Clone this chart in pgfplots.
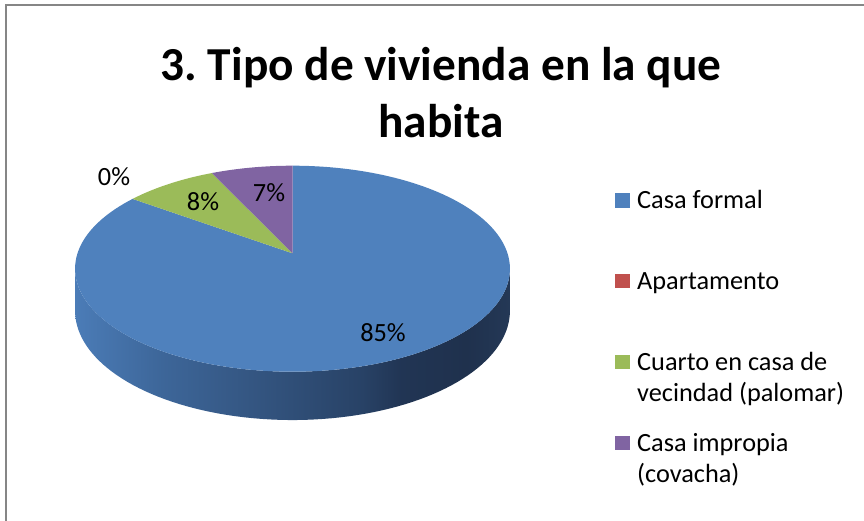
\documentclass[border=0pt]{standalone}
\usepackage{fontspec}
\setmainfont{Carlito}
\usepackage{pgfplots}
\pgfplotsset{compat=1.18}
\frenchspacing
\definecolor{cBlue}{RGB}{79,129,189}
\definecolor{cRed}{RGB}{192,80,77}
\definecolor{cGreen}{RGB}{155,187,89}
\definecolor{cPurple}{RGB}{128,100,162}
\definecolor{frameGray}{RGB}{134,134,134}
\definecolor{s0}{RGB}{75,124,183}
\definecolor{s1}{RGB}{61,102,153}
\definecolor{s2}{RGB}{51,84,127}
\definecolor{s3}{RGB}{40,66,102}
\definecolor{s4}{RGB}{33,53,84}
\definecolor{s5}{RGB}{31,49,77}
\definecolor{s6}{RGB}{36,56,86}
\pgfdeclarehorizontalshading{sideshade}{100bp}{color(0bp)=(s0); color(25bp)=(s0); color(35bp)=(s1); color(46.5bp)=(s2); color(58bp)=(s3); color(62.5bp)=(s4); color(70bp)=(s5); color(75bp)=(s6); color(100bp)=(s6)}
\newcommand\lab{\fontsize{26.4}{31.7}\selectfont}
\newcommand\ttl{\fontsize{47.5}{57}\selectfont\bfseries}
% data (percent)
\def\vA{85}% Casa formal
\def\vB{0}% Apartamento
\def\vC{8}% Cuarto en casa de vecindad (palomar)
\def\vD{7}% Casa impropia (covacha)
\begin{document}
\begin{tikzpicture}
\pgfmathsetmacro\aA{3.6*\vA}
\pgfmathsetmacro\aB{\aA+3.6*\vB}
\pgfmathsetmacro\aC{\aB+3.6*\vC}
\pgfmathsetmacro\aD{\aC+3.6*\vD}
\useasboundingbox (0,0) rectangle (864bp,521bp);
\begin{axis}[at={(0,0)}, anchor=south west, scale only axis,
  width=864bp, height=521bp, xmin=0, xmax=864, ymin=0, ymax=521,
  y dir=reverse, hide axis, clip=false,
  declare function={
    px(\a)=292.5+215*sin(\a)/(1+0.1495*cos(\a));
    py(\a)=253.3-100.7*cos(\a)/(1+0.1495*cos(\a));
    thS(\s)=ifthenelse(\s<=162.8, 98.6+\s, 261.4-(\s-162.8));
    off(\s)=ifthenelse(\s<=162.8, 0, 1);
  }]
% side of the pie
\addplot[draw=none, shading=sideshade, variable=\t, domain=0:325.6, samples=163]
  ({px(thS(t))}, {py(thS(t))+off(t)*41.1/(1+0.1495*cos(thS(t)))}) -- cycle;
% top slices
\addplot[fill=cBlue, draw=none, variable=\t, domain=0:\aA, samples=160]
  ({px(t)}, {py(t)}) -- (axis cs:292.5,253.3) -- cycle;
\addplot[fill=cGreen, draw=none, variable=\t, domain=\aB:\aC, samples=30]
  ({px(t)}, {py(t)}) -- (axis cs:292.5,253.3) -- cycle;
\addplot[fill=cPurple, draw=none, variable=\t, domain=\aC:\aD, samples=30]
  ({px(t)}, {py(t)}) -- (axis cs:292.5,253.3) -- cycle;
% frame
\draw[frameGray, line width=1.5bp] (axis cs:6,521) -- (axis cs:6,5) -- (axis cs:864,5);
% title
\node[anchor=base, font=\ttl] at (axis cs:441,81) {3. Tipo de vivienda en la que};
\node[anchor=base, font=\ttl] at (axis cs:441,137) {habita};
% data labels
\node[anchor=base, font=\lab] at (axis cs:114,185) {\vB\%};
\node[anchor=base, font=\lab] at (axis cs:203,210) {\vC\%};
\node[anchor=base, font=\lab] at (axis cs:269,201.7) {\vD\%};
\node[anchor=base, font=\lab] at (axis cs:383,341) {\vA\%};
% legend
\fill[cBlue] (axis cs:615,193) rectangle (axis cs:630,207.5);
\fill[cRed] (axis cs:615,273.5) rectangle (axis cs:630,288);
\fill[cGreen] (axis cs:615,354.5) rectangle (axis cs:630,369);
\fill[cPurple] (axis cs:615,435.5) rectangle (axis cs:630,450);
\node[anchor=base west, font=\lab, inner sep=0pt] at (axis cs:637,208.3) {Casa formal};
\node[anchor=base west, font=\lab, inner sep=0pt] at (axis cs:637,289) {Apartamento};
\node[anchor=base west, font=\lab, inner sep=0pt] at (axis cs:637,370) {Cuarto en casa de};
\node[anchor=base west, font=\lab, inner sep=0pt] at (axis cs:637,401.7) {vecindad (palomar)};
\node[anchor=base west, font=\lab, inner sep=0pt] at (axis cs:637,451) {Casa impropia};
\node[anchor=base west, font=\lab, inner sep=0pt] at (axis cs:637,482) {(covacha)};
\end{axis}
\end{tikzpicture}
\end{document}
